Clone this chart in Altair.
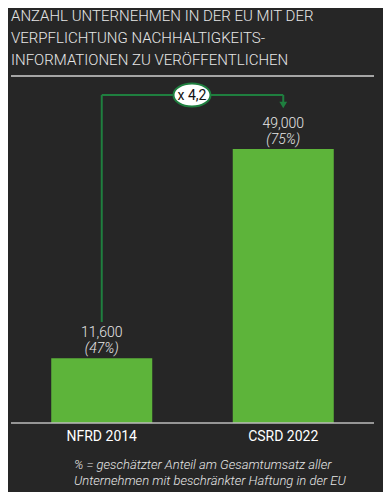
import altair as alt
import pandas as pd

categories = ["NFRD 2014", "CSRD 2022"]
companies = [11600, 49000]
value_labels = ["11,600", "49,000"]
share_labels = ["(47%)", "(75%)"]
title_lines = [
    "ANZAHL UNTERNEHMEN IN DER EU MIT DER",
    "VERPFLICHTUNG NACHHALTIGKEITS-",
    "INFORMATIONEN ZU VERÖFFENTLICHEN",
]
footnote_lines = [
    "% = geschätzter Anteil am Gesamtumsatz aller",
    "Unternehmen mit beschränkter Haftung in der EU",
]
factor_label = "x 4,2"

BG = "#262626"
BAR = "#5db43a"
LINE = "#1f7f3f"
TXT = "#e6e6e6"
FONT = "Roboto"

df = pd.DataFrame({"cat": categories, "n": companies, "val": value_labels, "pct": share_labels})

x = alt.X("cat:N", sort=categories, axis=None,
          scale=alt.Scale(domain=categories, range=[3, 366], paddingInner=0.4435, paddingOuter=0.2217))
y = alt.Y("n:Q", axis=None, scale=alt.Scale(domain=[0, 49000], range=[415, 141]))
xc = alt.X("cat:N", sort=categories, axis=None, bandPosition=0.5)

base = alt.Chart(df)

bars = base.mark_bar(color=BAR).encode(x=x, y=y, y2=alt.datum(0))

val_txt = base.mark_text(font=FONT, fontSize=14, fontWeight=300, color=TXT, baseline="alphabetic", dy=-21).encode(
    x=xc, y=y, text="val:N")
pct_txt = base.mark_text(font=FONT, fontSize=14, fontWeight=300, fontStyle="italic", color=TXT, baseline="alphabetic", dy=-5).encode(
    x=xc, y=y, text="pct:N")

cat_txt = base.mark_text(font=FONT, fontSize=14, color="#ffffff", baseline="alphabetic").encode(
    x=xc, y=alt.value(433), text="cat:N")

baseline = alt.Chart(pd.DataFrame({"n": [0]})).mark_rule(color="#bdbdbd", strokeWidth=1.5).encode(
    x=alt.value(3), x2=alt.value(366), y=y)

# annotation connector
first = pd.DataFrame({"cat": [categories[0]], "cat2": [categories[1]]})
v1 = alt.Chart(first).mark_rule(color=LINE, strokeWidth=2).encode(x=xc, y=alt.value(314), y2=alt.value(87))
h1 = alt.Chart(first).mark_rule(color=LINE, strokeWidth=2).encode(
    x=xc, x2=alt.X2("cat2:N", bandPosition=0.5), y=alt.value(87))
second = pd.DataFrame({"cat": [categories[1]]})
v2 = alt.Chart(second).mark_rule(color=LINE, strokeWidth=2).encode(x=xc, y=alt.value(87), y2=alt.value(95))
arrow = alt.Chart(second).mark_point(shape="triangle-down", filled=True, color=LINE, size=60, opacity=1).encode(
    x=xc, y=alt.value(97))

ell = alt.Chart(pd.DataFrame({"t": [factor_label]})).mark_point(
    shape="M-1,0 A1,0.62 0 1,1 1,0 A1,0.62 0 1,1 -1,0 Z",
    filled=True, fill="#ffffff", stroke=LINE, strokeWidth=2, size=1369, opacity=1).encode(
    x=alt.value(184), y=alt.value(87))
ell_txt = alt.Chart(pd.DataFrame({"t": [factor_label]})).mark_text(
    font=FONT, fontSize=14, color="#111111", baseline="middle").encode(
    x=alt.value(184), y=alt.value(87.5), text="t:N")

title_df = pd.DataFrame({"t": title_lines, "i": list(range(len(title_lines)))})
title = alt.Chart(title_df).mark_text(font=FONT, fontSize=15, fontWeight=300, color=TXT, align="left", baseline="alphabetic").encode(
    x=alt.value(3),
    y=alt.Y("i:Q", axis=None, scale=alt.Scale(domain=[0, 2], range=[13, 57])),
    text="t:N")
underline = alt.Chart(pd.DataFrame({"a": [1]})).mark_rule(color="#d0d0d0", strokeWidth=1.5).encode(
    x=alt.value(3), x2=alt.value(366), y=alt.value(68))

foot_df = pd.DataFrame({"t": footnote_lines, "i": list(range(len(footnote_lines)))})
foot = alt.Chart(foot_df).mark_text(font=FONT, fontSize=13, fontWeight=300, fontStyle="italic", color=TXT, align="left", baseline="alphabetic").encode(
    x=alt.value(66),
    y=alt.Y("i:Q", axis=None, scale=alt.Scale(domain=[0, 1], range=[461, 477])),
    text="t:N")

chart = alt.layer(
    bars, baseline, v1, h1, v2, arrow, ell, ell_txt, val_txt, pct_txt, cat_txt, title, underline, foot
).resolve_scale(y="independent").properties(
    width=375, height=484, padding=0, autosize=alt.AutoSizeParams(type="none"), background=BG
).configure_view(stroke=None)

chart.save("out.html", embed_options={"renderer": "svg", "actions": False})
